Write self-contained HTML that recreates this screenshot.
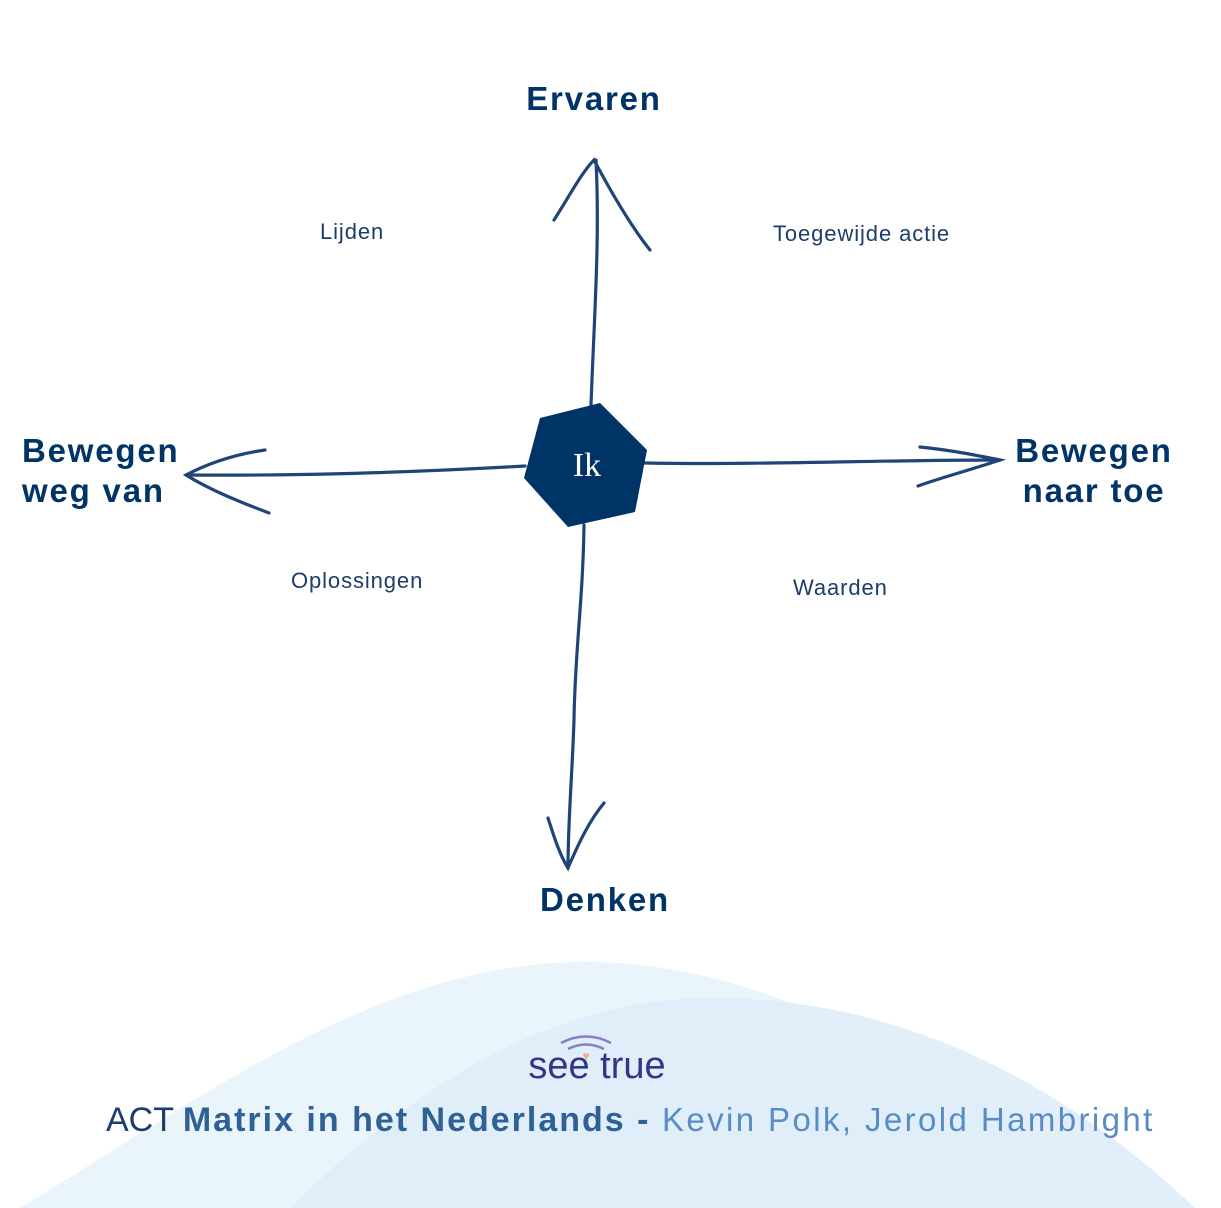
<!DOCTYPE html>
<html><head><meta charset="utf-8"><style>
html,body{margin:0;padding:0;background:#fff;}
body{width:1221px;height:1208px;overflow:hidden;position:relative;font-family:"Liberation Sans",sans-serif;}
svg{position:absolute;left:0;top:0;}
</style></head><body>
<svg width="1221" height="1208" viewBox="0 0 1221 1208">
<path d="M20 1208 C200 1100 380 960 590 962 C800 964 980 1100 1130 1208 Z" fill="#eaf4fb"/>
<path d="M290 1208 C420 1080 560 995 720 998 C900 1000 1060 1080 1195 1208 Z" fill="#dfedf9" opacity="0.9"/>
<g stroke="#1f4577" stroke-width="3.2" fill="none" stroke-linecap="round">
<path d="M591 405 C594 320 600 240 596 160"/>
<path d="M554 220 C570 195 582 172 594 160 C610 190 630 225 650 250"/>
<path d="M584 525 C583 600 575 650 574 720 C572 780 568 820 568 868"/>
<path d="M548 818 C555 840 560 855 568 868 C580 840 590 820 604 803"/>
<path d="M525 466 C420 472 300 476 186 475"/>
<path d="M265 450 C230 455 205 465 186 475 C210 490 240 502 269 513"/>
<path d="M645 463 C760 465 880 460 1000 460"/>
<path d="M920 447 C950 450 975 455 1000 460 C970 470 940 478 918 486"/>
</g>
<polygon points="600,403 647,450 635,512 568,527 524,478 540,418" fill="#003366"/>
<text x="587" y="476" fill="#fff" font-family="Liberation Serif,serif" font-size="34" text-anchor="middle">Ik</text>
<g fill="#003366" font-weight="bold" font-size="33" letter-spacing="1.8">
<text x="594" y="110" text-anchor="middle">Ervaren</text>
<text x="605" y="911" text-anchor="middle">Denken</text>
<text x="22" y="462">Bewegen</text>
<text x="22" y="502">weg van</text>
<text x="1094" y="462" text-anchor="middle">Bewegen</text>
<text x="1094" y="502" text-anchor="middle">naar toe</text>
</g>
<g fill="#1b3d6b" font-size="22" letter-spacing="0.9">
<text x="320" y="239">Lijden</text>
<text x="773" y="241">Toegewijde actie</text>
<text x="291" y="588">Oplossingen</text>
<text x="793" y="595">Waarden</text>
</g>
<g stroke="#8b7cc8" stroke-width="2.5" fill="none">
<path d="M561 1043 Q586 1030 611 1043"/><path d="M568 1049 Q586 1040 604 1049"/>
</g>
<text x="586" y="1060" fill="#f3a98f" font-size="12" text-anchor="middle">♥</text>
<text x="597" y="1078" fill="#34348a" font-size="38" text-anchor="middle">see true</text>
<text x="106" y="1131" font-size="34" fill="#1b3d6b">ACT <tspan font-weight="bold" fill="#2f6196" letter-spacing="2">Matrix in het Nederlands - </tspan><tspan fill="#5a8cc4" font-size="33" letter-spacing="2.4">Kevin Polk, Jerold Hambright</tspan></text>
</svg>
</body></html>
